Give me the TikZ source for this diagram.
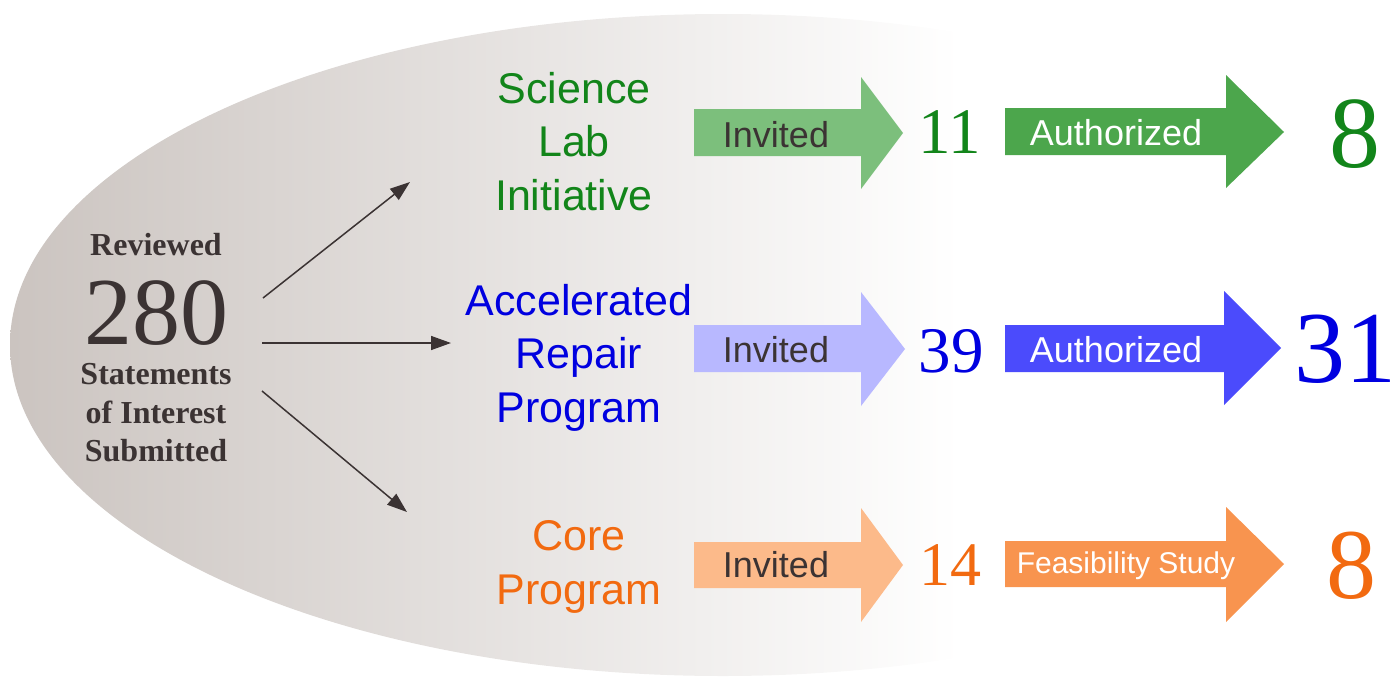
\documentclass[tikz,border=0pt]{standalone}
\usepackage{fontspec}
\setmainfont{Liberation Serif}
\setsansfont{Liberation Sans}
\usetikzlibrary{arrows.meta}

\definecolor{ink}{HTML}{3B3333}
\definecolor{backG}{HTML}{CBC4C0}
\definecolor{sciText}{HTML}{12851A}
\definecolor{arpText}{HTML}{0000E0}
\definecolor{coreText}{HTML}{F26A10}
\definecolor{sciInv}{HTML}{7CBF7C}
\definecolor{sciAuth}{HTML}{4CA64C}
\definecolor{arpInv}{HTML}{B8B8FF}
\definecolor{arpAuth}{HTML}{4B4BFC}
\definecolor{coreInv}{HTML}{FCBA8A}
\definecolor{coreFeas}{HTML}{F8944F}

\begin{document}
\begin{tikzpicture}[x=1pt, y=-1pt,
    prog/.style={font=\sffamily\fontsize{43}{53.5}\selectfont, align=center, inner sep=0pt},
    lbl/.style={font=\sffamily\fontsize{36}{40}\selectfont, anchor=base, inner sep=0pt},
    num/.style={font=\fontsize{65}{70}\selectfont, anchor=base, inner sep=0pt},
    big/.style={font=\fontsize{102}{110}\selectfont, anchor=base, inner sep=0pt},
    link/.style={ink, line width=1.5pt, -{Triangle[length=20pt,width=14pt]}}]
\useasboundingbox (0,0) rectangle (1395,683);

% shaded backdrop
\begin{scope}
\clip (723,345) ellipse [x radius=713, y radius=331];
\shade[left color=backG, right color=white] (10,0) rectangle (960,683);
\end{scope}

% left block
\node[anchor=base, inner sep=0pt, ink, font=\bfseries\fontsize{32}{38}\selectfont] (rev) at (156,255) {Reviewed};
\node[anchor=base, inner sep=0pt, ink, font=\fontsize{96}{100}\selectfont] (total) at (156,344) {280};
\node[inner sep=0pt, ink, align=center, font=\bfseries\fontsize{32}{38.5}\selectfont] (stmt) at (156,413) {Statements\\of Interest\\Submitted};

\coordinate (outA) at (263,298);
\coordinate (outB) at (262,343);
\coordinate (outC) at (262,391);
\coordinate (toA) at (410,182);
\coordinate (toB) at (451,343);
\coordinate (toC) at (407,512);
\draw[link] (outA) -- (toA);
\draw[link] (outB) -- (toB);
\draw[link] (outC) -- (toC);

% programs
\node[prog, sciText] (sci) at (574,141.5) {Science\\Lab\\Initiative};
\node[prog, arpText] (arp) at (579,357.5) {Accelerated\\Repair\\Program};
\node[prog, coreText] (core) at (579,567) {Core\\Program};

% block arrows
\fill[sciInv] (694,109) -- (861,109) -- (861,77) -- (903,133) -- (861,189) -- (861,156) -- (694,156) -- cycle;
\fill[sciAuth] (1005,108) -- (1226,108) -- (1226,75) -- (1284,132) -- (1226,188) -- (1226,155) -- (1005,155) -- cycle;
\fill[arpInv] (694,325) -- (861,325) -- (861,292) -- (905,349) -- (861,406) -- (861,372) -- (694,372) -- cycle;
\fill[arpAuth] (1005,325) -- (1224,325) -- (1224,291) -- (1281,348) -- (1224,405) -- (1224,372) -- (1005,372) -- cycle;
\fill[coreInv] (694,542) -- (861,542) -- (861,508) -- (903,565) -- (861,622) -- (861,588) -- (694,588) -- cycle;
\fill[coreFeas] (1005,541) -- (1226,541) -- (1226,507) -- (1284,564) -- (1226,622) -- (1226,587) -- (1005,587) -- cycle;

\node[lbl, ink] (invA) at (776,147) {Invited};
\node[lbl, white] (authA) at (1116,145) {Authorized};
\node[lbl, ink] (invB) at (776,362) {Invited};
\node[lbl, white] (authB) at (1116,362) {Authorized};
\node[lbl, ink] (invC) at (776,577) {Invited};
\node[lbl, white, font=\sffamily\fontsize{30}{34}\selectfont] (feasC) at (1126,573) {Feasibility Study};

% counts
\node[num, sciText] (nA) at (950,153) {11};
\node[big, sciText] (endA) at (1355,167) {8};
\node[num, arpText] (nB) at (951,372) {39};
\node[big, arpText] (endB) at (1345,382) {31};
\node[num, coreText, font=\fontsize{62}{66}\selectfont] (nC) at (950,585) {14};
\node[big, coreText, font=\fontsize{100}{106}\selectfont] (endC) at (1351,598) {8};

\end{tikzpicture}
\end{document}
